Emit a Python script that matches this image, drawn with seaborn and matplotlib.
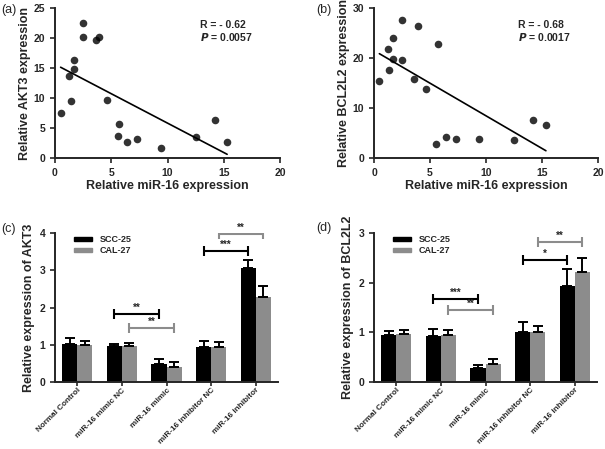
import matplotlib
matplotlib.use("Agg")
import matplotlib.pyplot as plt
import numpy as np
import pandas as pd
import seaborn as sns
from matplotlib.patches import Patch

# scatter data (a): AKT3 vs miR-16
mir16_a = [0.5, 1.27, 1.4, 1.7, 1.7, 2.5, 2.5, 3.6, 3.9, 4.6, 5.7, 5.6, 6.4, 7.3, 9.4, 12.5, 14.2, 15.3]
akt3 = [7.5, 13.6, 9.5, 16.3, 14.8, 22.5, 20.1, 19.6, 20.2, 9.6, 5.6, 3.7, 2.6, 3.2, 1.6, 3.5, 6.4, 2.7]

# scatter data (b): BCL2L2 vs miR-16
mir16_b = [0.48, 1.28, 1.37, 1.7, 1.7, 2.5, 2.5, 3.58, 3.9, 4.6, 5.7, 5.57, 6.4, 7.3, 9.4, 12.5, 14.2, 15.35]
bcl2l2 = [15.4, 21.7, 17.5, 24.0, 19.8, 27.5, 19.6, 15.7, 26.4, 13.7, 22.8, 2.8, 4.2, 3.75, 3.75, 3.55, 7.6, 6.5]

stats_a = ("R = - 0.62", "0.0057")
stats_b = ("R = - 0.68", "0.0017")

# bar data
groups = ["Normal Control", "miR-16 mimic NC", "miR-16 mimic", "miR-16 inhibitor NC", "miR-16 inhibitor"]
lines = ["SCC-25", "CAL-27"]

akt3_scc = [1.01, 0.97, 0.49, 0.94, 3.05]
akt3_scc_err = [0.16, 0.05, 0.14, 0.17, 0.23]
akt3_cal = [0.99, 0.96, 0.39, 0.94, 2.28]
akt3_cal_err = [0.12, 0.10, 0.16, 0.13, 0.31]

bcl_scc = [0.94, 0.93, 0.28, 1.00, 1.94]
bcl_scc_err = [0.09, 0.13, 0.06, 0.20, 0.33]
bcl_cal = [0.96, 0.94, 0.37, 1.00, 2.21]
bcl_cal_err = [0.09, 0.10, 0.10, 0.12, 0.28]

# significance brackets: (from group, to group, line index, y, label)
akt3_sig = [(1, 2, 0, 1.82, "**"), (1, 2, 1, 1.44, "**"), (3, 4, 0, 3.52, "***"), (3, 4, 1, 3.96, "**")]
bcl_sig = [(1, 2, 0, 1.67, "***"), (1, 2, 1, 1.45, "**"), (3, 4, 0, 2.45, "*"), (3, 4, 1, 2.81, "**")]

BLACK = "#000000"
GRAY = "#8c8c8c"

sns.set_style("ticks")
plt.rcParams["font.family"] = ["Liberation Sans", "DejaVu Sans"]
plt.rcParams["font.weight"] = "bold"
plt.rcParams["axes.linewidth"] = 1.4
plt.rcParams["xtick.major.width"] = 1.2
plt.rcParams["ytick.major.width"] = 1.2
plt.rcParams["xtick.major.size"] = 3.5
plt.rcParams["ytick.major.size"] = 3.5

W, H = 605, 449
fig = plt.figure(figsize=(W / 100, H / 100), dpi=100)


def px_axes(left, top, right, bottom):
    return fig.add_axes([left / W, 1 - bottom / H, (right - left) / W, (bottom - top) / H])


def scatter_panel(ax, x, y, ylabel, ymax, ystep, stats):
    sns.regplot(x=x, y=y, ax=ax, ci=None, color=BLACK,
                scatter_kws={"s": 30, "linewidths": 0},
                line_kws={"lw": 1.2})
    ax.set_xlim(0, 20)
    ax.set_ylim(0, ymax)
    ax.set_xticks(range(0, 21, 5))
    ax.set_yticks(range(0, ymax + 1, ystep))
    ax.tick_params(labelsize=7.5)
    for lab in ax.get_xticklabels() + ax.get_yticklabels():
        lab.set_fontweight("bold")
    ax.set_xlabel("Relative miR-16 expression", fontsize=9, fontweight="bold", labelpad=2)
    ax.set_ylabel(ylabel, fontsize=9, fontweight="bold", labelpad=2)
    ax.text(0.645, 0.887, stats[0], transform=ax.transAxes, fontsize=7.5, fontweight="bold",
            va="center")
    ax.text(0.645, 0.807, "$\\bfit{P}$ = " + stats[1], transform=ax.transAxes, fontsize=7.5,
            fontweight="bold", va="center")
    sns.despine(ax=ax)


def bar_panel(ax, scc, scc_err, cal, cal_err, ylabel, ymax, sig):
    df = pd.DataFrame({
        "group": groups * 2,
        "line": [lines[0]] * len(groups) + [lines[1]] * len(groups),
        "value": scc + cal,
    })
    sns.barplot(data=df, x="group", y="value", hue="line", order=groups, hue_order=lines,
                palette=[BLACK, GRAY], width=0.68, gap=0, errorbar=None, saturation=1,
                linewidth=0, ax=ax)
    centers = []
    for cont, vals, errs in zip(ax.containers, [scc, cal], [scc_err, cal_err]):
        xs = [b.get_x() + b.get_width() / 2 for b in cont]
        centers.append(xs)
        ax.errorbar(xs, vals, yerr=[np.zeros(len(errs)), errs], fmt="none",
                    ecolor=BLACK, elinewidth=1.4, capsize=3.5, capthick=1.4)
    for g1, g2, li, yb, lab in sig:
        col = BLACK if li == 0 else GRAY
        x1, x2 = centers[li][g1], centers[li][g2]
        ax.plot([x1, x2], [yb, yb], color=col, lw=1.5, marker="|", markersize=7,
                markeredgewidth=1.5, solid_capstyle="butt")
        ax.text((x1 + x2) / 2, yb + ymax * 0.01, lab, ha="center", va="bottom",
                fontsize=7, fontweight="bold")
    ax.set_xlim(-0.5, 4.5)
    ax.set_ylim(0, ymax)
    ax.set_yticks(range(0, ymax + 1))
    ax.set_xlabel("")
    ax.set_ylabel(ylabel, fontsize=9, fontweight="bold", labelpad=3)
    ax.tick_params(axis="y", labelsize=7.5)
    ax.tick_params(axis="x", labelsize=5.9, length=3, pad=0.5)
    for lab in ax.get_yticklabels():
        lab.set_fontweight("bold")
    ax.set_xticks(range(len(groups)))
    ax.set_xticklabels(groups, rotation=45, ha="right", rotation_mode="anchor",
                       fontweight="bold")
    handles = [Patch(color=BLACK), Patch(color=GRAY)]
    ax.legend(handles, lines, loc="upper left", bbox_to_anchor=(0.05, 1.04), frameon=False,
              handlelength=2.0, handleheight=0.3, handletextpad=0.8,
              labelspacing=0.25, prop={"weight": "bold", "size": 6.5})
    sns.despine(ax=ax)


ax_a = px_axes(55, 8, 280, 158)
scatter_panel(ax_a, mir16_a, akt3, "Relative AKT3 expression", 25, 5, stats_a)
ax_b = px_axes(374, 8, 598, 158)
scatter_panel(ax_b, mir16_b, bcl2l2, "Relative BCL2L2 expression", 30, 10, stats_b)

ax_c = px_axes(55, 233, 278, 382)
bar_panel(ax_c, akt3_scc, akt3_scc_err, akt3_cal, akt3_cal_err,
          "Relative expression of AKT3", 4, akt3_sig)
ax_d = px_axes(374, 233, 597, 382)
bar_panel(ax_d, bcl_scc, bcl_scc_err, bcl_cal, bcl_cal_err,
          "Relative expression of BCL2L2", 3, bcl_sig)

for lab, (px, py) in zip(["(a)", "(b)", "(c)", "(d)"], [(1, 13), (316, 13), (1, 232), (316, 231)]):
    fig.text(px / W, 1 - py / H, lab, fontsize=9, fontweight="normal")

fig.savefig("out.png", dpi=100)
